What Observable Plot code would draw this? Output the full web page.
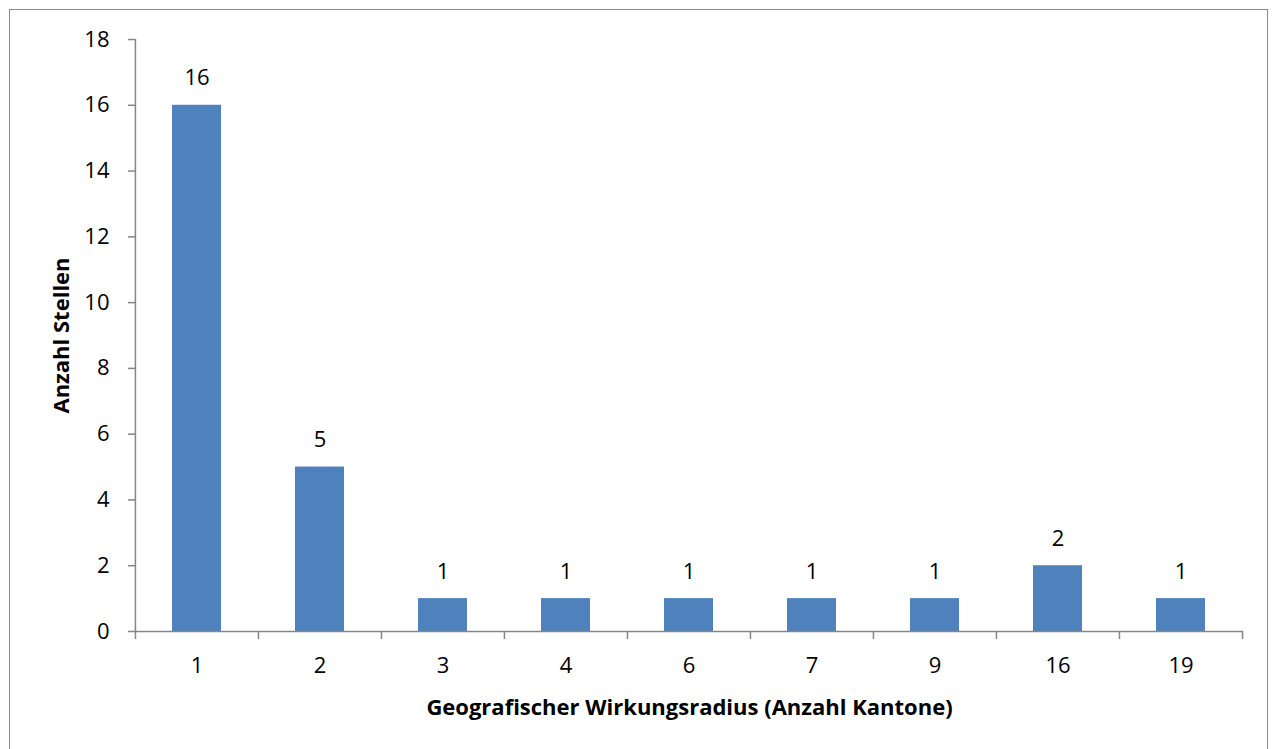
<!DOCTYPE html>
<html>
<head>
<meta charset="utf-8">
<script src="https://cdn.jsdelivr.net/npm/d3@7"></script>
<script src="https://cdn.jsdelivr.net/npm/@observablehq/plot@0.6"></script>
<style>
  html, body { margin: 0; padding: 0; background: #fff; overflow: hidden; }
  #wrap { position: relative; width: 1272px; height: 749px; }
  #border { position: absolute; left: 9px; top: 9px; width: 1259px; height: 800px; border: 1px solid #8a8a8a; box-sizing: border-box; pointer-events: none; }
  svg { font-family: "Open Sans", "Liberation Sans", sans-serif; }
</style>
</head>
<body>
<div id="wrap"><div id="border"></div></div>
<script>
const categories = ["1", "2", "3", "4", "6", "7", "9", "16", "19"];
const counts = [16, 5, 1, 1, 1, 1, 1, 2, 1];
const yTicks = [0, 2, 4, 6, 8, 10, 12, 14, 16, 18];
const xTitle = "Geografischer Wirkungsradius (Anzahl Kantone)";
const yTitle = "Anzahl Stellen";

const data = categories.map((c, i) => ({cat: c, value: counts[i]}));

const W = 1272, H = 749;
const mL = 135, mR = 29, mT = 39, mB = 118;
const step = (W - mL - mR) / categories.length;
const axisGray = "#868686";
const fs = 22;

const chart = Plot.plot({
  width: W,
  height: H,
  marginLeft: mL,
  marginRight: mR,
  marginTop: mT,
  marginBottom: mB,
  style: {fontSize: fs + "px", fontFamily: "'Open Sans', 'Liberation Sans', sans-serif", background: "transparent", color: "black"},
  x: {type: "band", domain: categories, paddingInner: 0.6, paddingOuter: 0.3, axis: null},
  y: {domain: [0, 18], axis: null},
  marks: [
    Plot.barY(data, {x: "cat", y: "value", fill: "#4F81BD"}),
    Plot.text(data, {x: "cat", y: "value", text: d => String(d.value), dy: -27, fill: "black", fontSize: fs}),
    Plot.ruleY([0], {stroke: axisGray, strokeWidth: 1.5}),
    Plot.ruleX([categories[0]], {dx: -step / 2, stroke: axisGray, strokeWidth: 1.5}),
    Plot.ruleX(categories, {x: d => d, y1: 0, y2: 0, insetBottom: -8, dx: -step / 2, stroke: axisGray, strokeWidth: 1.5}),
    Plot.ruleX([categories[categories.length - 1]], {x: d => d, y1: 0, y2: 0, insetBottom: -8, dx: step / 2, stroke: axisGray, strokeWidth: 1.5}),
    Plot.axisY({ticks: yTicks, tickSize: 7, tickPadding: 19, stroke: axisGray, strokeWidth: 1.5, fill: "black", fontSize: fs, label: null}),
    Plot.axisX({tickSize: 0, tickPadding: 26, fill: "black", fontSize: fs, label: null}),
    Plot.text([xTitle], {frameAnchor: "bottom", lineAnchor: "middle", textAnchor: "middle", dy: 76, text: d => d, fontWeight: "bold", fontSize: fs, fill: "black"}),
    Plot.text([yTitle], {frameAnchor: "left", lineAnchor: "middle", textAnchor: "middle", dx: -74, rotate: -90, text: d => d, fontWeight: "bold", fontSize: fs, fill: "black"})
  ]
});
document.getElementById("wrap").prepend(chart);
</script>
</body>
</html>
